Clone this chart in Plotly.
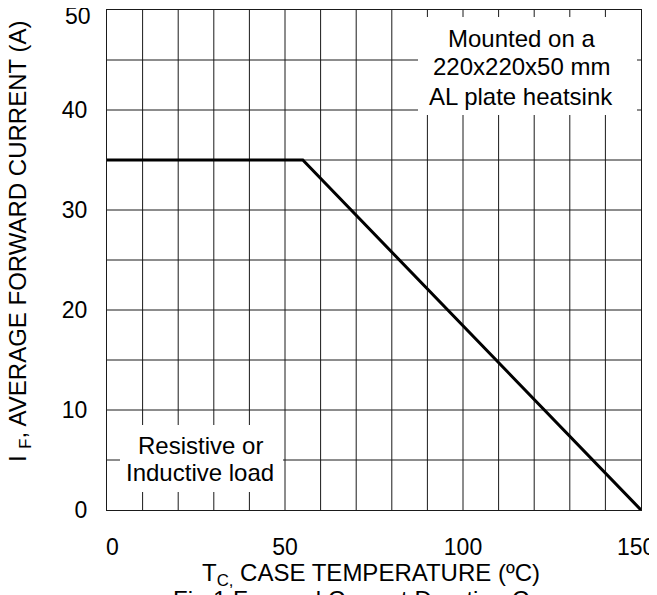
import plotly.graph_objects as go

# Data
case_temp = [0, 55, 150]
forward_current = [35, 35, 0]
x_ticks = [0, 50, 100, 150]
x_labels = ["", "50", "100", ""]
x_edge_labels = ["0", "150"]
y_ticks = [0, 10, 20, 30, 40, 50]
y_labels = ["0", "10", "20", "30", "40", ""]
y_top_label = "50"

FONT = "Liberation Sans, Arial, sans-serif"
GRID = "#1a1a1a"
FS = 24
TICK_FS = 23

# plot area in page pixels; the page places the figure 8px from its corner
OFF = 8
L, R, T, B = 107, 641, 10, 510
W, H = 657, 595
def px(x):
    return (x - L) / (R - L)
def py(y):
    return (B - y) / (B - T)

fig = go.Figure()
fig.add_trace(go.Scatter(x=case_temp, y=forward_current, mode="lines",
                         line=dict(color="black", width=3), showlegend=False,
                         hoverinfo="skip"))

fig.update_layout(
    template="none",
    width=W - OFF, height=H - OFF,
    margin=dict(l=L - OFF, r=W - R, t=T - OFF, b=H - B, autoexpand=False),
    paper_bgcolor="white", plot_bgcolor="white",
    font=dict(family=FONT, size=FS, color="black"),
    xaxis=dict(range=[0, 150], tickvals=x_ticks, ticktext=x_labels,
               showgrid=False, zeroline=False,
               showline=True, mirror=True, linecolor=GRID, linewidth=1,
               ticks="", ticklabelstandoff=16, ticklabeloverflow="allow",
               automargin=False, tickfont=dict(size=TICK_FS)),
    yaxis=dict(range=[0, 50], tickvals=y_ticks, ticktext=y_labels,
               showgrid=False, zeroline=False,
               showline=True, mirror=True, linecolor=GRID, linewidth=1,
               ticks="", ticklabelstandoff=14, ticklabeloverflow="allow",
               automargin=False, tickfont=dict(size=TICK_FS)),
)

# edge tick labels, nudged inward as in the original
fig.add_annotation(text=y_top_label, xref="paper", yref="y", x=0, y=y_ticks[-1],
                   xanchor="right", yanchor="middle", xshift=-14, yshift=-6,
                   showarrow=False, font=dict(size=TICK_FS))
for val, lab, shift in zip([x_ticks[0], x_ticks[-1]], x_edge_labels, [5, -5]):
    fig.add_annotation(text=lab, xref="x", yref="paper", x=val, y=0,
                       xanchor="center", yanchor="top", xshift=shift, yshift=-22,
                       showarrow=False, font=dict(size=TICK_FS))

# grid lines: vertical every 10 °C, horizontal every 5 A
shapes = []
for gx in range(10, 150, 10):
    shapes.append(dict(type="line", xref="x", yref="paper", x0=gx, x1=gx, y0=0, y1=1,
                       line=dict(color=GRID, width=1), layer="below"))
for gy in range(5, 50, 5):
    shapes.append(dict(type="line", xref="paper", yref="y", x0=0, x1=1, y0=gy, y1=gy,
                       line=dict(color=GRID, width=1), layer="below"))
# white label boxes
shapes.append(dict(type="rect", xref="paper", yref="paper", x0=px(418), x1=px(637),
                   y0=py(115), y1=py(17), fillcolor="white", line=dict(width=0),
                   layer="below"))
shapes.append(dict(type="rect", xref="paper", yref="paper", x0=px(120), x1=px(283),
                   y0=py(492), y1=py(425), fillcolor="white", line=dict(width=0),
                   layer="below"))
fig.update_layout(shapes=shapes)

def note(text, x, y, size=FS, xanchor="center", yanchor="middle", **kw):
    fig.add_annotation(text=text, xref="paper", yref="paper", x=px(x), y=py(y),
                       xanchor=xanchor, yanchor=yanchor,
                       showarrow=False, font=dict(size=size), **kw)

for line, yy in zip(["Mounted on a", "220x220x50 mm", "AL plate heatsink"], [38, 67, 96]):
    note(line, 521, yy)
for line, yy in zip(["Resistive or", "Inductive load"], [445, 472]):
    note(line, 200, yy)

note("T<sub>C,</sub> CASE TEMPERATURE (ºC)", 371, 574)
note("I <sub>F</sub>, AVERAGE FORWARD CURRENT (A)", 20, 242, textangle=-90)
note("Fig.1 Forward Current Derating Curve", 374, 584, yanchor="top")

fig.write_html("out.html")
